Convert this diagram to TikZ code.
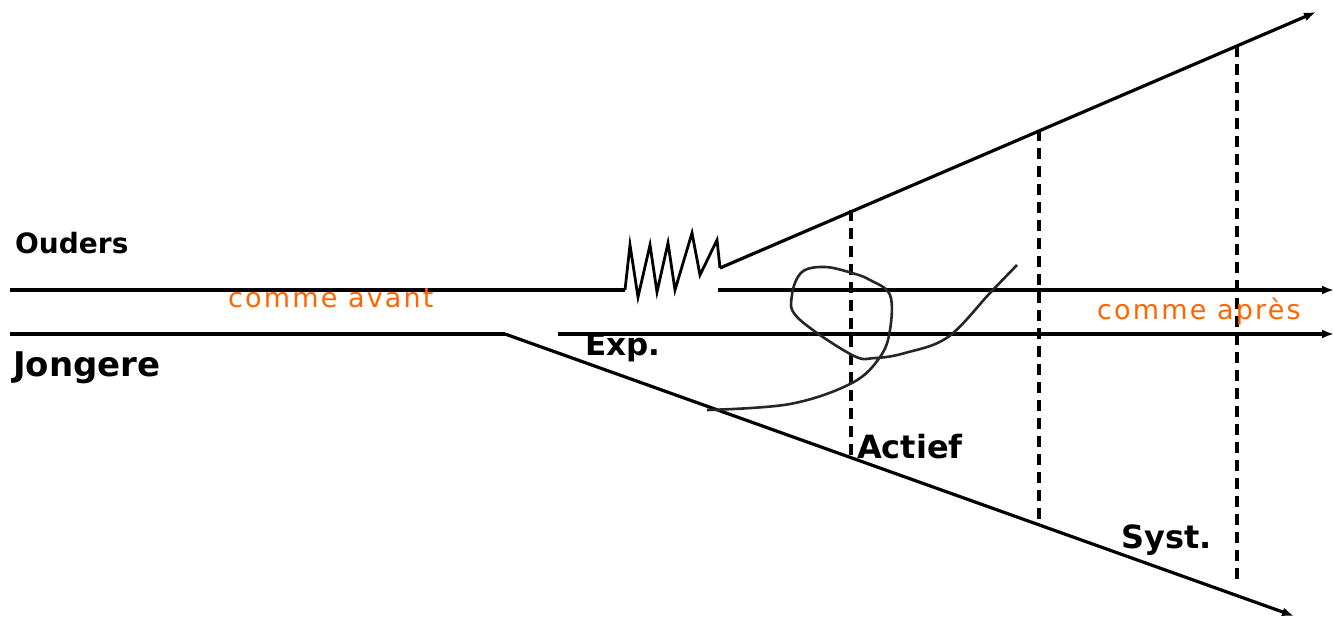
\documentclass[tikz,border=0pt]{standalone}
\usepackage{fontspec}
\setmainfont{DejaVu Sans}
\usepackage{tikz}
\usetikzlibrary{arrows.meta, positioning}
\definecolor{notecolor}{RGB}{255, 102, 0}

\begin{document}
\begin{tikzpicture}[
    x=1pt, y=-1pt,
    line/.style={line width=3.2pt},
    arrow/.style={line width=3.2pt, -{Latex[length=12pt, width=9pt]}},
    guide/.style={line width=3.2pt, dash pattern=on 11pt off 7pt},
    scribble/.style={line width=2.6pt, black!85},
    group/.style={font=\fontsize{28}{30}\selectfont\bfseries, anchor=base west, inner sep=0pt},
    phase/.style={font=\fontsize{32}{34}\selectfont\bfseries, anchor=base west, inner sep=0pt},
    note/.style={font=\fontsize{27}{29}\selectfont\addfontfeature{LetterSpace=8}, text=notecolor, anchor=base west, inner sep=0pt}
]
    \useasboundingbox (0,0) rectangle (1334,620);

    % Ouders line
    \coordinate (oudL) at (10,290);
    \coordinate (oudM) at (625,290);
    \coordinate (oudR0) at (718,290);
    \coordinate (oudR) at (1334,290);
    \draw[line] (oudL) -- (oudM);
    \draw[arrow] (oudR0) -- (oudR);

    % Jongere line
    \coordinate (jonL) at (10,334);
    \coordinate (jonM) at (505,334);
    \coordinate (jonR0) at (558,334);
    \coordinate (jonR) at (1334,334);
    \draw[line] (jonL) -- (jonM);
    \draw[arrow] (jonR0) -- (jonR);

    % Zigzag and upper branch
    \coordinate (zigE) at (720,268);
    \coordinate (upper) at (1316,12);
    \draw[line, line width=2.8pt] (oudM) -- (630,245) -- (638,297) -- (650,245) -- (657,292)
        -- (668,243) -- (675,290) -- (692,233) -- (700,275) -- (717,240) -- (zigE);
    \draw[arrow] (zigE) -- (upper);

    % Lower branch
    \coordinate (lower) at (1294,616);
    \draw[arrow] (jonM) -- (lower);

    % Phase borders
    \coordinate (g1t) at (851,210);
    \coordinate (g1b) at (851,458);
    \coordinate (g2t) at (1039,130);
    \coordinate (g2b) at (1039,522);
    \coordinate (g3t) at (1237,46);
    \coordinate (g3b) at (1237,585);
    \draw[guide] (g1t) -- (g1b);
    \draw[guide] (g2t) -- (g2b);
    \draw[guide] (g3t) -- (g3b);

    % Scribble
    \draw[scribble] plot[smooth, tension=0.6] coordinates {(707,410) (790,404) (852,383) (880,357)
        (890,330) (890,295) (870,280) (852,273) (825,267) (802,272) (792,295) (798,318)
        (852,355) (875,358) (905,353) (948,337) (990,293) (1017,265)};

    % Labels
    \node[group] (ouders) at (15,254) {Ouders};
    \node[phase, font=\fontsize{34}{36}\selectfont\bfseries] (jongere) at (13,377) {Jongere};
    \node[note] (avant) at (228,308) {comme avant};
    \node[note] (apres) at (1097,320) {comme après};
    \node[phase, font=\fontsize{31}{33}\selectfont\bfseries] (exp) at (585,356) {Exp.};
    \node[phase] (actief) at (857,458) {Actief};
    \node[phase] (syst) at (1121,548) {Syst.};

\end{tikzpicture}
\end{document}
